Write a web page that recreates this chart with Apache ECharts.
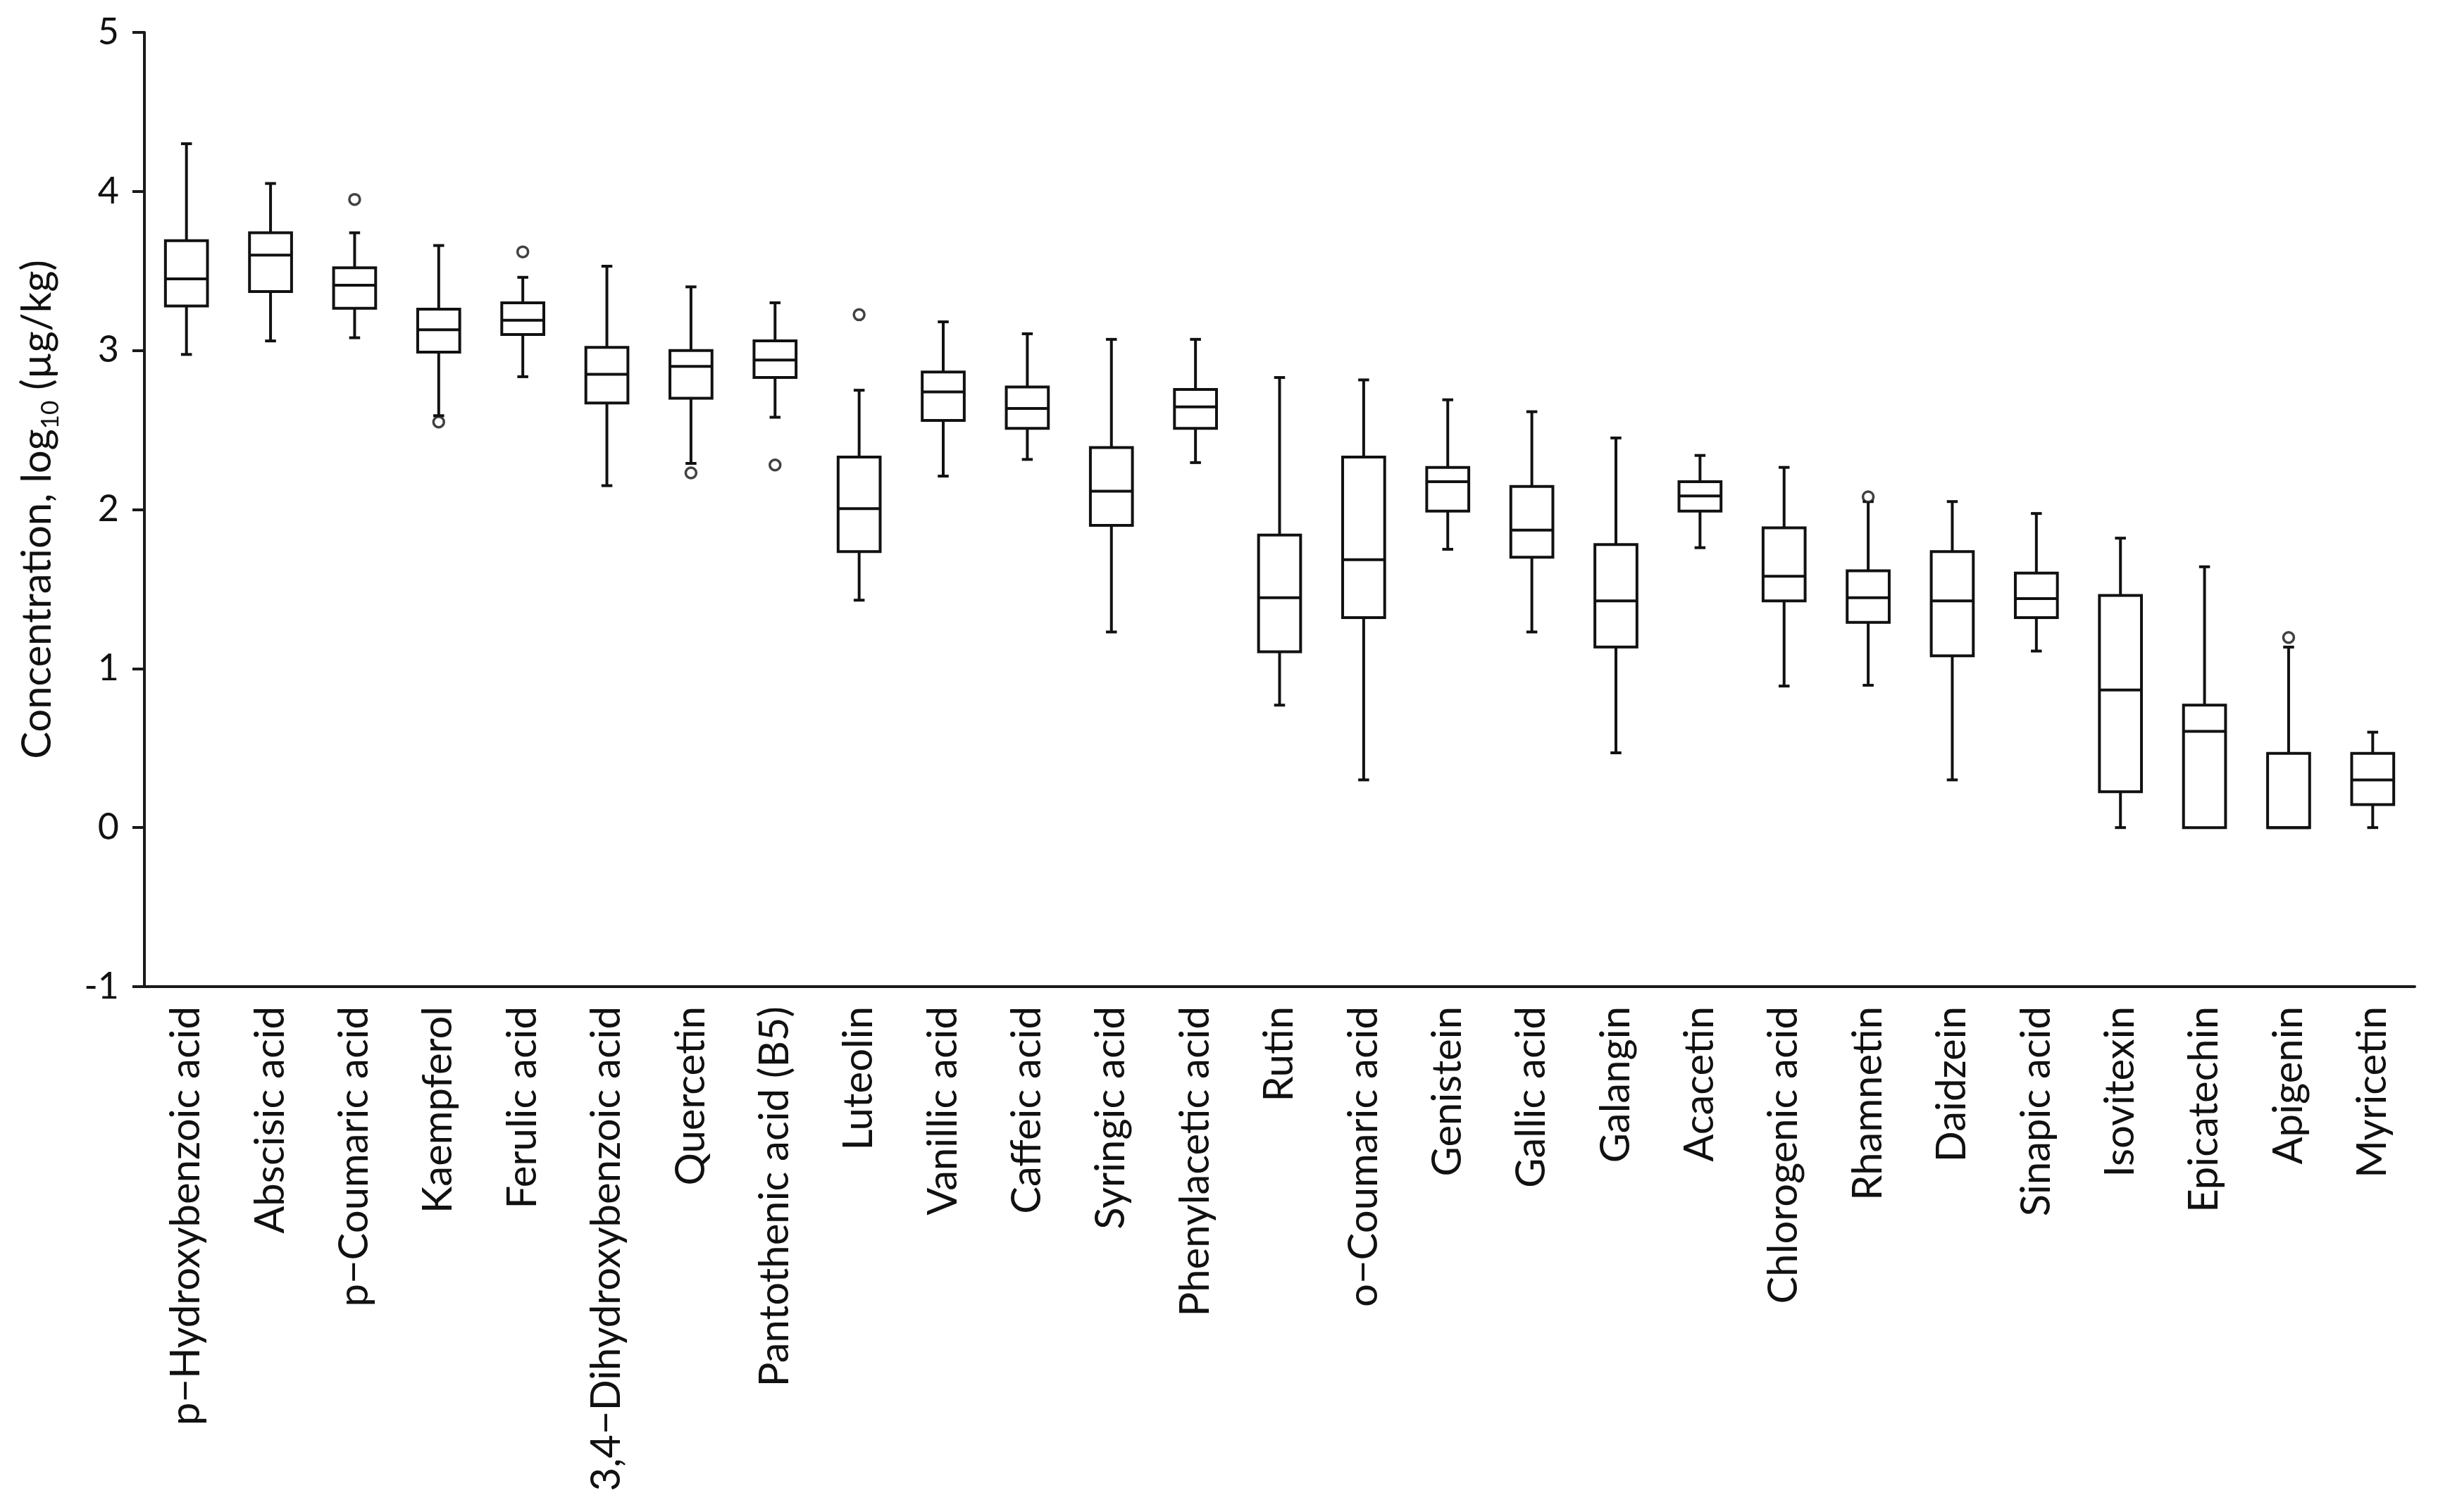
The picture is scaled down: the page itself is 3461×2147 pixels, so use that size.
<!DOCTYPE html>
<html>
<head>
<meta charset="utf-8">
<script src="https://cdn.jsdelivr.net/npm/echarts@6/dist/echarts.min.js"></script>
<style>
html,body{margin:0;padding:0;background:#fff;}
#chart{width:3461px;height:2147px;}
</style>
</head>
<body>
<div id="chart"></div>
<script>
const categories = ['p−Hydroxybenzoic acid','Abscisic acid','p−Coumaric acid','Kaempferol','Ferulic acid','3,4−Dihydroxybenzoic acid','Quercetin','Pantothenic acid (B5)','Luteolin','Vanillic acid','Caffeic acid','Syringic acid','Phenylacetic acid','Rutin','o−Coumaric acid','Genistein','Gallic acid','Galangin','Acacetin','Chlorogenic acid','Rhamnetin','Daidzein','Sinapic acid','Isovitexin','Epicatechin','Apigenin','Myricetin'];
const whiskerLow  = [2.975,3.06,3.08,2.59,2.835,2.15,2.29,2.58,1.43,2.21,2.315,1.23,2.295,0.77,0.30,1.75,1.23,0.47,1.76,0.89,0.895,0.30,1.11,0,0,0,0];
const quartile1   = [3.28,3.37,3.265,2.99,3.10,2.67,2.70,2.83,1.735,2.56,2.51,1.90,2.51,1.105,1.32,1.99,1.70,1.135,1.99,1.425,1.29,1.08,1.32,0.225,0,0,0.145];
const medians     = [3.45,3.60,3.41,3.13,3.19,2.85,2.90,2.94,2.005,2.74,2.635,2.115,2.645,1.445,1.685,2.175,1.87,1.425,2.085,1.58,1.445,1.425,1.44,0.865,0.605,0,0.30];
const quartile3   = [3.69,3.74,3.52,3.26,3.30,3.02,3.00,3.06,2.33,2.865,2.77,2.39,2.755,1.84,2.33,2.265,2.145,1.78,2.175,1.885,1.615,1.735,1.60,1.46,0.77,0.467,0.467];
const whiskerHigh = [4.30,4.05,3.74,3.66,3.46,3.53,3.40,3.30,2.75,3.18,3.105,3.07,3.07,2.83,2.815,2.69,2.615,2.45,2.34,2.265,2.05,2.05,1.975,1.82,1.64,1.135,0.60];
const outlierCategory = ['p−Coumaric acid','Kaempferol','Ferulic acid','Quercetin','Pantothenic acid (B5)','Luteolin','Rhamnetin','Apigenin'];
const outlierValue    = [3.95,2.55,3.62,2.23,2.28,3.225,2.08,1.195];
const yTicks = [-1,0,1,2,3,4,5];

const boxData = categories.map((c,i)=>[i, whiskerLow[i], quartile1[i], medians[i], quartile3[i], whiskerHigh[i]]);
const outData = outlierCategory.map((c,k)=>[categories.indexOf(c), outlierValue[k]]);

const LW = 4;
const chart = echarts.init(document.getElementById('chart'));
chart.setOption({
  backgroundColor:'#fff',
  animation:false,
  grid:{left:205,right:33,top:46,bottom:746},
  xAxis:{
    type:'category',
    data:categories,
    boundaryGap:true,
    axisLine:{onZero:false,lineStyle:{color:'#1a1a1a',width:LW}},
    axisTick:{show:false},
    axisLabel:{rotate:90,interval:0,margin:28,color:'#111',fontFamily:'Lato',fontSize:58},
    splitLine:{show:false}
  },
  yAxis:{
    type:'value',
    min:yTicks[0],max:yTicks[yTicks.length-1],interval:1,
    axisLine:{show:true,lineStyle:{color:'#1a1a1a',width:LW}},
    axisTick:{show:true,length:17,lineStyle:{color:'#1a1a1a',width:LW}},
    axisLabel:{margin:36,color:'#111',fontFamily:'Lato',fontSize:52},
    splitLine:{show:false},
    name:'{a|Concentration, log}{s|10}{a| (µg/kg)}',
    nameLocation:'middle',
    nameGap:116,
    nameRotate:90,
    nameTextStyle:{
      color:'#111',
      rich:{
        a:{fontFamily:'Lato',fontSize:58,color:'#111',lineHeight:72,verticalAlign:'middle'},
        s:{fontFamily:'Lato',fontSize:35,color:'#111',lineHeight:42,verticalAlign:'bottom'}
      }
    }
  },
  series:[
    {
      type:'custom',
      data:boxData,
      encode:{x:0,y:[1,2,3,4,5]},
      renderItem:function(params, api){
        const i = api.value(0);
        const lo = api.coord([i, api.value(1)]);
        const q1 = api.coord([i, api.value(2)]);
        const md = api.coord([i, api.value(3)]);
        const q3 = api.coord([i, api.value(4)]);
        const hi = api.coord([i, api.value(5)]);
        const band = api.size([1,0])[0];
        const hw = band*0.25;
        const cw = band*0.065;
        const x = lo[0];
        const st = {stroke:'#111',lineWidth:LW,fill:null};
        const ch = [];
        if (hi[1] < q3[1]-0.5) {
          ch.push({type:'line',shape:{x1:x,y1:hi[1],x2:x,y2:q3[1]},style:st});
          ch.push({type:'line',shape:{x1:x-cw,y1:hi[1],x2:x+cw,y2:hi[1]},style:st});
        }
        if (lo[1] > q1[1]+0.5) {
          ch.push({type:'line',shape:{x1:x,y1:q1[1],x2:x,y2:lo[1]},style:st});
          ch.push({type:'line',shape:{x1:x-cw,y1:lo[1],x2:x+cw,y2:lo[1]},style:st});
        }
        ch.push({type:'rect',shape:{x:x-hw,y:q3[1],width:hw*2,height:q1[1]-q3[1]},style:{stroke:'#111',lineWidth:LW,fill:'#fff'}});
        ch.push({type:'line',shape:{x1:x-hw,y1:md[1],x2:x+hw,y2:md[1]},style:st});
        return {type:'group',children:ch};
      },
      z:2
    },
    {
      type:'scatter',
      data:outData,
      symbol:'circle',
      symbolSize:15,
      itemStyle:{color:'#fff',borderColor:'#111',borderWidth:3.5},
      z:3
    }
  ]
});
</script>
</body>
</html>
